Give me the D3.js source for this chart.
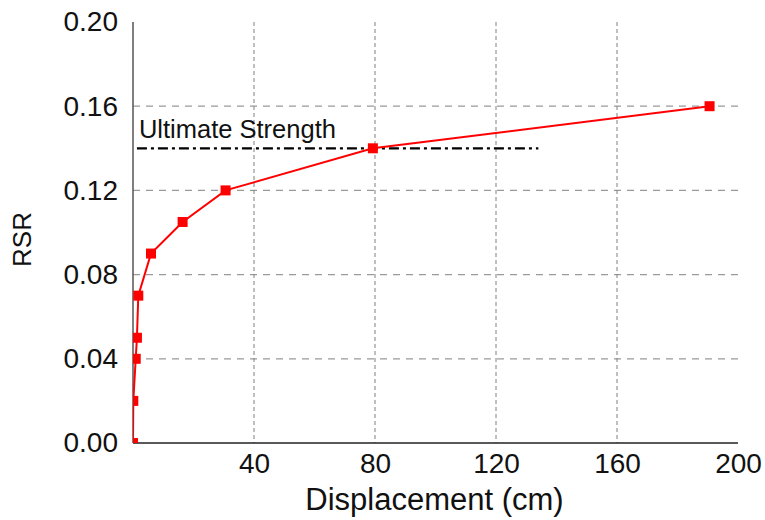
<!DOCTYPE html>
<html>
<head>
<meta charset="utf-8">
<script src="https://cdn.jsdelivr.net/npm/d3@7"></script>
<style>
  body { margin: 0; background: #fff; }
  svg { font-family: "Liberation Sans", Arial, sans-serif; }
</style>
</head>
<body>
<div id="chart"></div>
<script>
// pushover curve values
const displacement = [0, 0.1, 0.9, 1.3, 1.75, 5.95, 16.4, 30.6, 79.3, 190.6];
const rsr = [0, 0.02, 0.04, 0.05, 0.07, 0.09, 0.105, 0.12, 0.14, 0.16];

const xTicks = [40, 80, 120, 160, 200];
const yTicks = [0, 0.04, 0.08, 0.12, 0.16, 0.20];

const ultimateLabel = "Ultimate Strength";
const ultimateRSR = 0.14;
const ultimateSpan = [1.3, 134];

const width = 765, height = 520;
const plotL = 133, plotR = 738, plotT = 22, plotB = 443;

const svg = d3.select("#chart").append("svg")
    .attr("width", width)
    .attr("height", height);

const x = d3.scaleLinear().domain([0, 200]).range([plotL, plotR]);
const y = d3.scaleLinear().domain([0, 0.2]).range([plotB, plotT]);

svg.append("clipPath").attr("id", "plot")
  .append("rect")
    .attr("x", plotL).attr("y", plotT - 6)
    .attr("width", plotR - plotL + 6).attr("height", plotB - plotT + 6);

// grid
svg.append("g").selectAll("line")
  .data(yTicks.filter(d => d > 0 && d < 0.2))
  .join("line")
    .attr("x1", plotL).attr("x2", plotR)
    .attr("y1", d => y(d)).attr("y2", d => y(d))
    .style("stroke", "#9a9a9a")
    .style("stroke-width", 1.2)
    .style("stroke-dasharray", "7,6");

svg.append("g").selectAll("line")
  .data(xTicks.filter(d => d < 200))
  .join("line")
    .attr("x1", d => x(d)).attr("x2", d => x(d))
    .attr("y1", plotT).attr("y2", plotB)
    .style("stroke", "#808080")
    .style("stroke-width", 1)
    .style("stroke-dasharray", "4,3");

// axes
const xAxis = svg.append("g")
    .attr("transform", `translate(0,${plotB})`)
    .call(d3.axisBottom(x).tickValues(xTicks).tickSize(0).tickPadding(10));
xAxis.select(".domain").attr("d", `M${plotL},0H${plotR}`).style("stroke", "#222").style("stroke-width", 1.5);
xAxis.selectAll("text").style("font-size", "28px").style("fill", "#111");

const yAxis = svg.append("g")
    .attr("transform", `translate(${plotL},0)`)
    .call(d3.axisLeft(y).tickValues(yTicks).tickFormat(d3.format(".2f")).tickSize(0).tickPadding(15));
yAxis.select(".domain").attr("d", `M0,${plotT}V${plotB}`).style("stroke", "#555").style("stroke-width", 1.5);
yAxis.selectAll("text").style("font-size", "28px").style("fill", "#111");

// axis titles
svg.append("text")
    .attr("x", (plotL + plotR) / 2 - 1).attr("y", 510)
    .attr("text-anchor", "middle")
    .style("font-size", "31px").style("fill", "#111")
    .text("Displacement (cm)");

svg.append("text")
    .attr("transform", `translate(31,${(plotT + plotB) / 2 + 7}) rotate(-90)`)
    .attr("text-anchor", "middle")
    .style("font-size", "26px").style("fill", "#111")
    .text("RSR");

// ultimate strength line
svg.append("line")
    .attr("x1", x(ultimateSpan[0])).attr("x2", x(ultimateSpan[1]))
    .attr("y1", y(ultimateRSR)).attr("y2", y(ultimateRSR))
    .style("stroke", "#000")
    .style("stroke-width", 2.2)
    .style("stroke-dasharray", "10,4,3,4");

svg.append("text")
    .attr("x", x(ultimateSpan[0]) + 2).attr("y", y(ultimateRSR) - 10)
    .style("font-size", "25.5px").style("fill", "#111")
    .text(ultimateLabel);

// curve
const pts = displacement.map((d, i) => [d, rsr[i]]);
const plot = svg.append("g").attr("clip-path", "url(#plot)");

plot.append("path")
    .datum(pts)
    .attr("d", d3.line().x(d => x(d[0])).y(d => y(d[1])))
    .style("fill", "none")
    .style("stroke", "#ff0000")
    .style("stroke-width", 2);

const s = 10;
plot.selectAll("rect")
  .data(pts)
  .join("rect")
    .attr("x", d => x(d[0]) - s / 2)
    .attr("y", d => y(d[1]) - s / 2)
    .attr("width", s).attr("height", s)
    .style("fill", "#ff0000");
</script>
</body>
</html>
